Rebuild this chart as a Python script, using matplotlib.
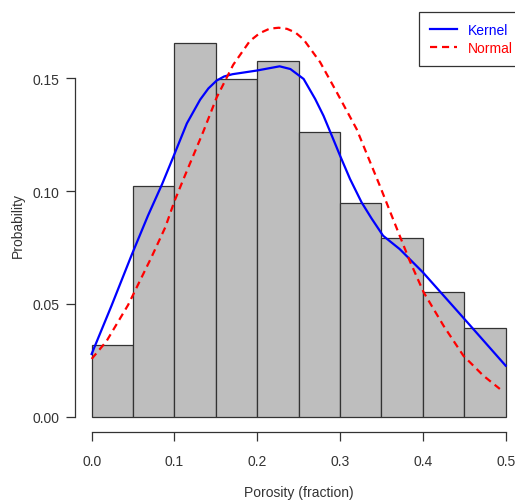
import matplotlib
matplotlib.use("Agg")
import matplotlib.pyplot as plt
import numpy as np

plt.rcParams['font.family'] = ['Liberation Sans', 'DejaVu Sans']
plt.rcParams['font.size'] = 10

# histogram of porosity, as proportion of samples per 0.05 bin
bin_edges = [0.00, 0.05, 0.10, 0.15, 0.20, 0.25, 0.30, 0.35, 0.40, 0.45, 0.50]
probs = [0.0319, 0.1024, 0.1656, 0.1496, 0.1577, 0.1261, 0.0946, 0.0791, 0.0554, 0.0393]

# kernel density estimate (scaled to bin width)
kernel_x = [0.000, 0.024, 0.048, 0.068, 0.085, 0.099, 0.115, 0.131, 0.141, 0.151, 0.160,
            0.170, 0.199, 0.227, 0.240, 0.256, 0.270, 0.280, 0.290, 0.300, 0.312, 0.326,
            0.338, 0.352, 0.372, 0.400, 0.449, 0.500]
kernel_y = [0.0278, 0.0492, 0.0714, 0.0891, 0.1030, 0.1155, 0.1300, 0.1405, 0.1455, 0.1490, 0.1508,
            0.1518, 0.1534, 0.1553, 0.1541, 0.1497, 0.1408, 0.1334, 0.1246, 0.1157, 0.1054, 0.0950,
            0.0879, 0.0802, 0.0743, 0.0640, 0.0438, 0.0226]

# fitted normal curve (scaled to bin width)
normal_x = [0.000, 0.018, 0.044, 0.072, 0.089, 0.100, 0.111, 0.135, 0.151, 0.171,
            0.191, 0.203, 0.215, 0.226, 0.236, 0.246, 0.256, 0.276, 0.296, 0.320,
            0.348, 0.364, 0.384, 0.401, 0.425, 0.449, 0.473, 0.493]
normal_y = [0.0256, 0.0335, 0.0495, 0.0705, 0.0840, 0.0955, 0.1054, 0.1265, 0.1415, 0.1560,
            0.1665, 0.1700, 0.1720, 0.1724, 0.1719, 0.1703, 0.1672, 0.1571, 0.1438, 0.1275,
            0.1024, 0.0876, 0.0692, 0.0551, 0.0403, 0.0270, 0.0182, 0.0123]

fig = plt.figure(figsize=(5.15, 5.02), dpi=100)
ax = fig.add_axes([0.1458, 0.1365, 0.8682, 0.8494])

ax.bar(bin_edges[:-1], probs, width=np.diff(bin_edges), align='edge',
       color='#BEBEBE', edgecolor='#333333', linewidth=0.9)
ax.plot(kernel_x, kernel_y, color='#0000FF', lw=1.6, label='Kernel')
ax.plot(normal_x, normal_y, color='#FF0000', lw=1.6, ls=(0, (3.2, 2.2)), label='Normal')

ax.set_xlim(-0.02, 0.52)
ax.set_ylim(-0.007, 0.182)

for s in ['top', 'right']:
    ax.spines[s].set_visible(False)
ax.spines['left'].set_bounds(0, 0.15)
ax.spines['bottom'].set_bounds(0, 0.5)
for s in ['left', 'bottom']:
    ax.spines[s].set_color('#333333')
    ax.spines[s].set_linewidth(0.9)

ax.set_xticks([0.0, 0.1, 0.2, 0.3, 0.4, 0.5])
ax.set_xticklabels(['0.0', '0.1', '0.2', '0.3', '0.4', '0.5'])
ax.set_yticks([0.00, 0.05, 0.10, 0.15])
ax.set_yticklabels(['0.00', '0.05', '0.10', '0.15'])
ax.tick_params(axis='both', direction='out', length=6.5, width=0.9, color='#333333',
               labelcolor='#333333', labelsize=10)
ax.tick_params(axis='x', pad=9)
ax.tick_params(axis='y', pad=5)

ax.set_xlabel('Porosity (fraction)', color='#333333')
ax.xaxis.set_label_coords(0.5, -0.14)
ax.xaxis.label.set_va('center')
ax.set_ylabel('Probability', color='#333333')
ax.yaxis.set_label_coords(-0.128, 0.487)
ax.yaxis.label.set_va('center')

leg = ax.legend(loc='upper left', bbox_to_anchor=(419 / 515, 1 - 13 / 502),
                bbox_transform=fig.transFigure, borderaxespad=0, fancybox=False,
                framealpha=1, edgecolor='#333333', labelcolor='linecolor',
                handlelength=1.9, handletextpad=0.8, labelspacing=0.3, borderpad=0.8,
                fontsize=10)
leg.get_frame().set_linewidth(0.9)

plt.savefig('out.png', dpi=100)
